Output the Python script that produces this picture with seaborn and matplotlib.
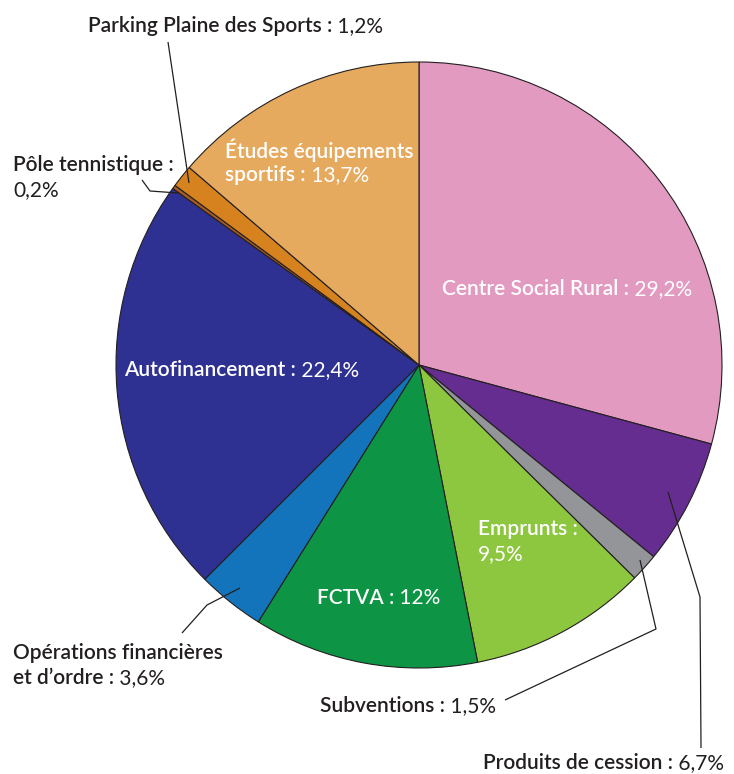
"""
Pie chart of investment funding sources, with inside and outside labels.
"""
import matplotlib

matplotlib.use("Agg")
import matplotlib.pyplot as plt
import seaborn as sns

W, H = 734, 774

# Slices, clockwise from 12 o'clock
names = [
    "Centre Social Rural",
    "Produits de cession",
    "Subventions",
    "Emprunts",
    "FCTVA",
    "Opérations financières et d’ordre",
    "Autofinancement",
    "Pôle tennistique",
    "Parking Plaine des Sports",
    "Études équipements sportifs",
]
shares = [29.2, 6.7, 1.5, 9.5, 12.0, 3.6, 22.4, 0.2, 1.2, 13.7]
pct_labels = ["29,2%", "6,7%", "1,5%", "9,5%", "12%", "3,6%", "22,4%", "0,2%", "1,2%", "13,7%"]
colors = [
    "#E29AC1", "#652D90", "#939598", "#8DC63F", "#0D9444",
    "#1474BB", "#2E3192", "#A85C22", "#D6831F", "#E6AA5F",
]

DARK = "#231F20"
FONT = ["Lato", "DejaVu Sans"]
FS = 15

sns.set_theme(style="white")
plt.rcParams["font.family"] = FONT


def px(x, y):
    # image pixel coords (origin top-left) -> data coords
    return x, H - y


fig = plt.figure(figsize=(W / 100, H / 100), dpi=100)
ax = fig.add_axes([0, 0, 1, 1])

ax.pie(
    shares,
    colors=colors,
    startangle=90,
    counterclock=False,
    center=px(419, 365),
    radius=303,
    frame=True,
    wedgeprops=dict(edgecolor=DARK, linewidth=0.8),
)
ax.set_xlim(0, W)
ax.set_ylim(0, H)
ax.set_aspect("equal")
ax.axis("off")


def label(x, y, lines, pct, color, gap=25):
    """lines: bold text lines; pct is appended in regular weight to the last
    line (or put on its own line if the last entry is None)."""
    t = None
    for i, ln in enumerate(lines):
        if ln is None:
            continue
        t = ax.text(*px(x, y + i * gap), ln, color=color, fontsize=FS,
                    fontweight="semibold", ha="left", va="center")
    if lines[-1] is None:
        ax.text(*px(x, y + (len(lines) - 1) * gap), pct, color=color,
                fontsize=FS, ha="left", va="center")
    else:
        ax.annotate(" " + pct, xy=(1, 0), xycoords=t, color=color,
                    fontsize=FS, ha="left", va="bottom")


def leader(points):
    xs, ys = zip(*[px(a, b) for a, b in points])
    ax.plot(xs, ys, color=DARK, lw=0.9, solid_capstyle="butt")


# inside labels (white)
label(442, 289, ["Centre Social Rural :"], pct_labels[0], "white")
label(478, 529, ["Emprunts :", None], pct_labels[3], "white")
label(317, 598, ["FCTVA :"], pct_labels[4], "white")
label(124, 370, ["Autofinancement :"], pct_labels[6], "white")
label(225, 150, ["Études équipements", "sportifs :"], pct_labels[9], "white")

# outside labels
label(88, 26, ["Parking Plaine des Sports :"], pct_labels[8], DARK)
label(13, 165, ["Pôle tennistique :", None], pct_labels[7], DARK)
label(13, 653, ["Opérations financières", "et d’ordre :"], pct_labels[5], DARK)
label(320, 706, ["Subventions :"], pct_labels[2], DARK)
label(483, 763, ["Produits de cession :"], pct_labels[1], DARK)

# leader lines
leader([(168, 42), (189, 183)])
leader([(142, 180), (150, 191), (178, 193)])
leader([(182, 633), (207, 605), (240, 588)])
leader([(505, 700), (656, 629), (640, 560)])
leader([(701, 748), (700, 597), (668, 492)])

fig.savefig("out.png", dpi=100)
